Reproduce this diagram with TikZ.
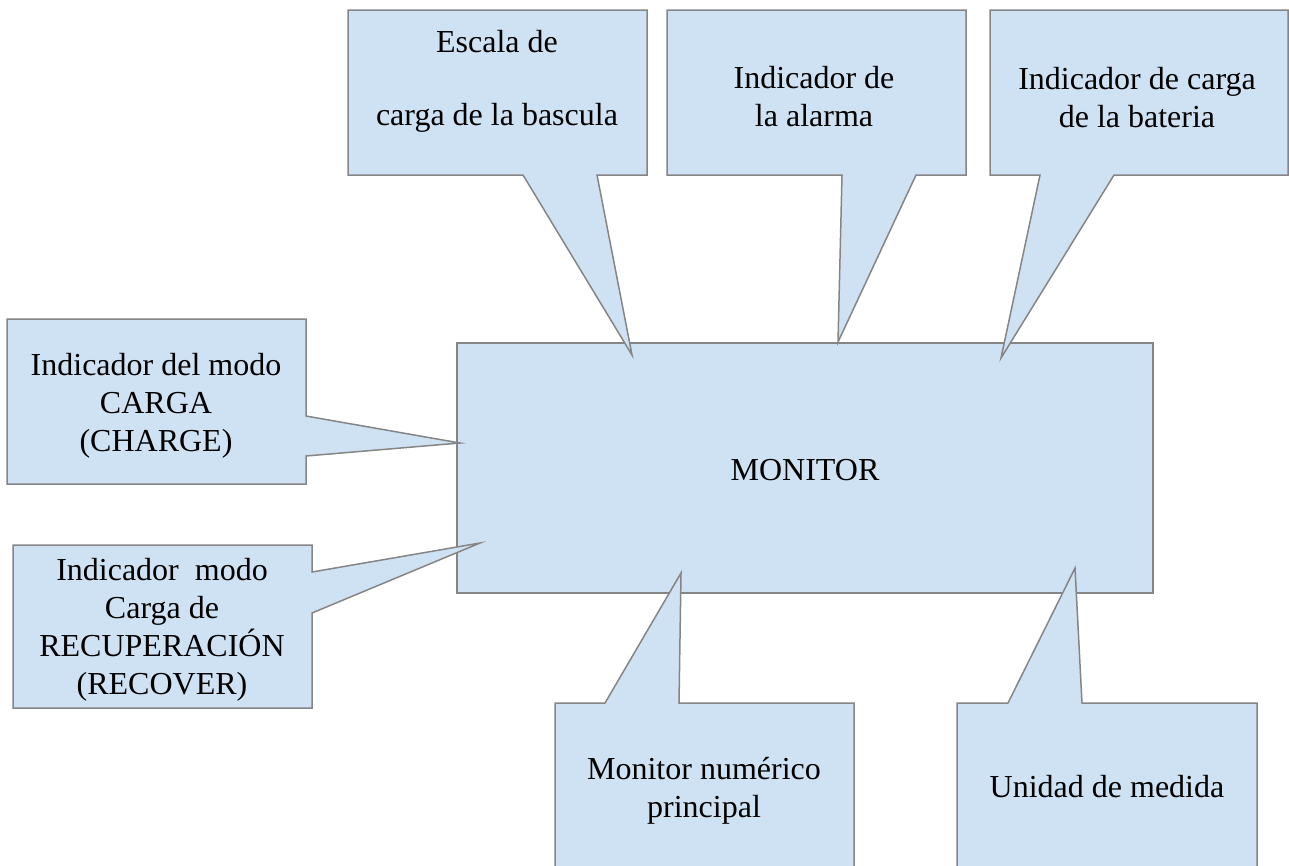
\documentclass[tikz,border=0pt]{standalone}
\usepackage{fontspec}
\setmainfont{Liberation Serif}
\definecolor{celeste}{HTML}{CFE2F3}
\definecolor{borde}{HTML}{858585}
\tikzset{globo/.style={draw=borde, fill=celeste, line width=1.5pt, line join=miter},
	texto/.style={align=center, font=\fontsize{32}{38}\selectfont, inner sep=0pt}}
\begin{document}
\begin{tikzpicture}[x=1pt,y=-1pt]
	\useasboundingbox (0,0) rectangle (1289,865);
	\clip (0,0) rectangle (1289,865);
	%pantalla
	\draw [globo] (457,343) rectangle (1153,593);
	\node [texto] (monitor) at (805,470) {MONITOR};
	
	%globos de arriba
	\draw [globo] (348,10) -- (647,10) -- (647,175) -- (597,175) -- (632,355) -- (523,175) -- (348,175) -- cycle;
	\node [texto] (escala) at (497,81) {Escala de\\[35pt]carga de la bascula};
	\draw [globo] (667,10) -- (966,10) -- (966,175) -- (916,175) -- (838,342) -- (842,175) -- (667,175) -- cycle;
	\node [texto] (alarma) at (814,97) {Indicador de\\la alarma};
	\draw [globo] (990,10) -- (1288,10) -- (1288,175) -- (1114,175) -- (1001,358) -- (1040,175) -- (990,175) -- cycle;
	\node [texto] (bateria) at (1137,98) {Indicador de carga\\de la bateria};
	
	%globos de la izquierda
	\draw [globo] (7,319) -- (306,319) -- (306,416) -- (460,443) -- (306,456) -- (306,484) -- (7,484) -- cycle;
	\node [texto] (charge) at (156,406) {Indicador del modo\\CARGA\\(CHARGE)};
	\draw [globo] (13,545) -- (312,545) -- (312,572) -- (480,543) -- (312,613) -- (312,708) -- (13,708) -- cycle;
	\node [texto] (recover) at (162,630) {Indicador~ modo\\Carga de\\RECUPERACIÓN\\(RECOVER)};
	
	%globos de abajo
	\draw [globo] (555,703) -- (605,703) -- (681,573) -- (679,703) -- (854,703) -- (854,880) -- (555,880) -- cycle;
	\node [texto] (numerico) at (704,791) {Monitor numérico\\principal};
	\draw [globo] (957,703) -- (1008,703) -- (1075,568) -- (1082,703) -- (1257,703) -- (1257,880) -- (957,880) -- cycle;
	\node [texto] (unidad) at (1107,787) {Unidad de medida};
\end{tikzpicture}
\end{document}
